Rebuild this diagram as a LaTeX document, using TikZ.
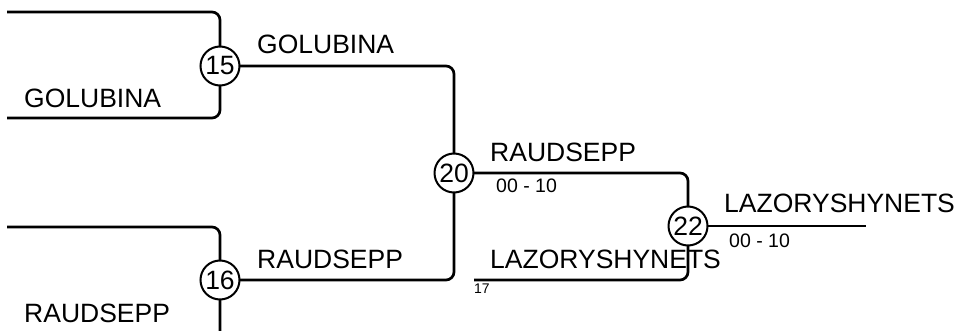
\documentclass[tikz,border=0pt]{standalone}
\usepackage{fontspec}
\setmainfont{Liberation Sans}
\begin{document}
\begin{tikzpicture}[x=1pt,y=-1pt,
  conn/.style={line width=2.7pt, rounded corners=8pt},
  circ/.style={circle, draw, line width=2pt, fill=white, minimum size=39pt, inner sep=0pt, font=\fontsize{26.5}{26.5}\selectfont},
  big/.style={anchor=base west, inner sep=0pt, font=\fontsize{26.5}{26.5}\selectfont},
  small/.style={anchor=base west, inner sep=0pt, font=\fontsize{19.5}{19.5}\selectfont},
  tiny/.style={anchor=base west, inner sep=0pt, font=\fontsize{14}{14}\selectfont}]
\clip (0,0) rectangle (958,331);
\coordinate (a1) at (7,12);
\coordinate (a2) at (7,118);
\coordinate (b1) at (7,227);
\coordinate (b2) at (7,341);
\coordinate (e17) at (474,280);
\coordinate (fin) at (866,226);
% labels
\node[big] (l1) at (24,108) {GOLUBINA};
\node[big] (l2) at (24,322) {RAUDSEPP};
\node[big] (l3) at (257,54) {GOLUBINA};
\node[big] (l4) at (257,268) {RAUDSEPP};
\node[big] (l5) at (490,162) {RAUDSEPP};
\node[small] (s1) at (496,193) {00 - 10};
\node[big] (l6) at (724,212) {LAZORYSHYNETS};
\node[small] (s2) at (729,247) {00 - 10};
\node[big] (l7) at (490,268) {LAZORYSHYNETS};
\node[tiny] (t17) at (474,293) {17};
% circle positions
\coordinate (p15) at (220,66);
\coordinate (p16) at (220,280);
\coordinate (p20) at (454,173);
\coordinate (p22) at (688,226);
% connectors
\draw[conn] (a1) -| (p15);
\draw[conn] (a2) -| (p15);
\draw[conn] (b1) -| (p16);
\draw[conn] (b2) -| (p16);
\draw[conn] (p15) -| (p20);
\draw[conn] (p16) -| (p20);
\draw[conn] (p20) -| (p22);
\draw[conn] (e17) -| (p22);
\draw[conn] (p22) -- (fin);
% circles
\node[circ] (c15) at (p15) {15};
\node[circ] (c16) at (p16) {16};
\node[circ] (c20) at (p20) {20};
\node[circ] (c22) at (p22) {22};
\end{tikzpicture}
\end{document}
